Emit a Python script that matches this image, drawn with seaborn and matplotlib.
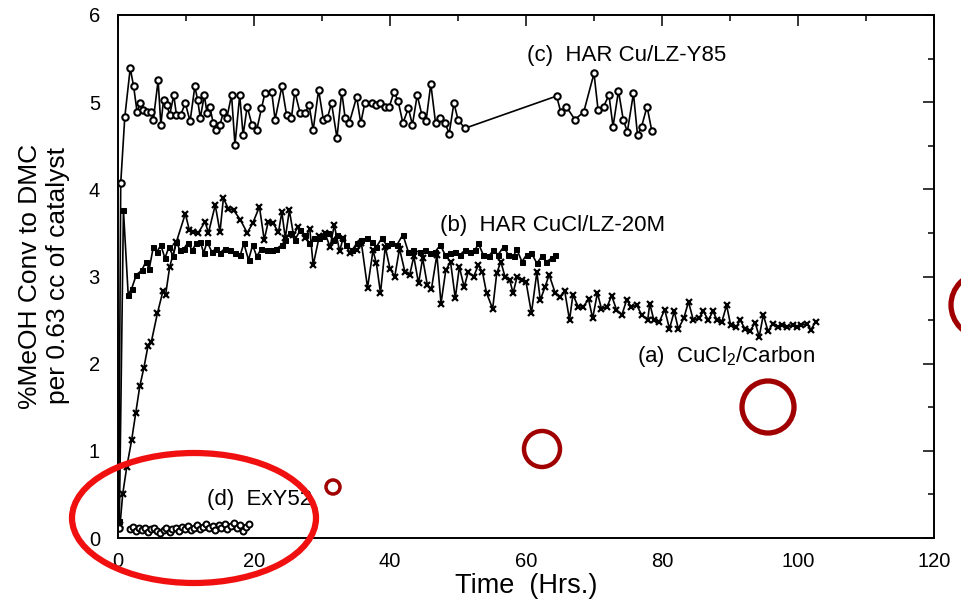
import matplotlib
matplotlib.use("Agg")
import matplotlib.pyplot as plt
from matplotlib.patches import Ellipse
import seaborn as sns
import pandas as pd

# ---- data: conversion vs. time on stream ----
c_time = [0.1, 0.4, 1.0, 1.8, 2.3, 2.8, 3.3, 3.7, 4.3, 4.9,
          5.2, 5.9, 6.3, 6.7, 7.2, 7.6, 8.2, 8.6, 9.2, 9.9,
          10.6, 11.3, 11.7, 12.1, 12.7, 13.1, 13.5, 14.0, 14.4, 15.0,
          15.5, 16.0, 16.7, 17.2, 17.9, 18.4, 19.0, 19.7, 20.4, 21.1,
          21.6, 22.6, 23.1, 24.1, 24.8, 25.5, 26.0, 26.8, 27.5, 28.1,
          28.7, 29.5, 30.2, 30.8, 31.4, 32.2, 32.9, 33.4, 34.0, 35.1,
          35.7, 36.3, 37.3, 38.0, 38.6, 39.3, 39.9, 40.6, 41.2, 41.9,
          42.7, 43.3, 44.0, 44.7, 45.3, 46.0, 46.7, 47.3, 48.1, 48.7,
          49.4, 50.0, 51.0, 64.5, 65.1, 65.9, 67.2, 68.5, 70.0, 70.6,
          71.4, 72.2, 72.8, 73.6, 74.3, 74.9, 75.8, 76.4, 77.0, 77.8,
          78.5]
c_conv = [0.12, 4.07, 4.83, 5.39, 5.18, 4.89, 4.99, 4.91, 4.89, 4.89,
          4.80, 5.25, 4.74, 5.03, 4.97, 4.85, 5.08, 4.85, 4.85, 4.99,
          4.78, 5.18, 5.03, 4.82, 5.08, 4.87, 4.95, 4.76, 4.68, 4.74,
          4.89, 4.82, 5.08, 4.51, 5.08, 4.62, 4.95, 4.74, 4.68, 4.93,
          5.10, 5.12, 4.80, 5.18, 4.85, 4.82, 5.12, 4.87, 4.87, 4.97,
          4.68, 5.14, 4.80, 4.82, 4.99, 4.59, 5.12, 4.82, 4.76, 5.06,
          4.76, 4.99, 4.99, 4.97, 4.99, 4.95, 4.95, 5.12, 5.01, 4.76,
          4.93, 4.74, 5.08, 4.85, 4.78, 5.21, 4.76, 4.82, 4.76, 4.64,
          4.99, 4.80, 4.70, 5.07, 4.89, 4.95, 4.80, 4.89, 5.33, 4.91,
          4.95, 5.08, 4.72, 5.13, 4.80, 4.66, 5.10, 4.62, 4.72, 4.95,
          4.67]

b_time = [0.2, 0.8, 1.5, 2.0, 2.7, 3.5, 4.1, 4.6, 5.2, 5.7,
          6.3, 6.9, 7.5, 8.1, 8.6, 9.1, 9.7, 10.3, 10.9, 11.5,
          12.1, 12.6, 13.1, 13.8, 14.4, 15.0, 15.7, 16.5, 17.2, 18.0,
          18.5, 19.2, 19.8, 20.4, 21.1, 21.9, 22.6, 23.3, 24.1, 24.6,
          25.3, 26.0, 26.8, 27.5, 28.1, 28.8, 29.5, 30.2, 30.9, 31.6,
          32.2, 32.9, 33.6, 34.4, 35.1, 35.8, 36.6, 37.3, 38.0, 38.8,
          39.5, 40.2, 41.0, 41.9, 42.7, 43.4, 44.4, 45.1, 45.9, 46.6,
          47.4, 48.1, 48.8, 49.6, 50.3, 51.0, 51.8, 52.5, 53.0, 53.7,
          54.5, 55.2, 55.9, 56.7, 57.4, 58.2, 58.6, 59.4, 60.1, 60.8,
          61.6, 62.3, 63.0, 63.8, 64.3]
b_conv = [0.20, 3.76, 2.79, 2.86, 3.02, 3.07, 3.17, 3.09, 3.34, 3.28,
          3.36, 3.21, 3.34, 3.23, 3.40, 3.30, 3.32, 3.39, 3.30, 3.38,
          3.40, 3.27, 3.40, 3.28, 3.32, 3.27, 3.32, 3.30, 3.27, 3.25,
          3.38, 3.19, 3.36, 3.23, 3.32, 3.30, 3.30, 3.32, 3.36, 3.42,
          3.50, 3.42, 3.53, 3.48, 3.38, 3.44, 3.44, 3.46, 3.50, 3.42,
          3.48, 3.44, 3.36, 3.30, 3.38, 3.42, 3.44, 3.40, 3.34, 3.44,
          3.36, 3.38, 3.36, 3.48, 3.28, 3.30, 3.28, 3.30, 3.27, 3.28,
          3.36, 3.25, 3.27, 3.28, 3.25, 3.30, 3.28, 3.30, 3.38, 3.25,
          3.23, 3.30, 3.25, 3.34, 3.25, 3.23, 3.32, 3.17, 3.25, 3.27,
          3.15, 3.23, 3.17, 3.21, 3.25]

a_time = [0.3, 0.7, 1.3, 2.0, 2.6, 3.2, 3.8, 4.4, 4.9, 5.8,
          6.6, 7.0, 7.6, 8.6, 9.9, 10.5, 11.1, 11.8, 12.8, 13.3,
          14.3, 15.0, 15.5, 16.2, 17.0, 18.0, 19.0, 19.8, 20.8, 21.5,
          22.1, 22.8, 23.6, 24.1, 24.6, 25.2, 25.8, 26.5, 27.5, 28.2,
          28.7, 29.6, 30.4, 31.2, 31.8, 32.6, 33.1, 34.1, 35.1, 35.8,
          36.7, 37.5, 38.0, 38.6, 39.3, 40.0, 40.7, 41.4, 42.2, 42.9,
          43.5, 44.2, 44.8, 45.5, 46.1, 46.9, 47.5, 48.2, 48.9, 49.6,
          50.2, 50.9, 51.5, 52.3, 53.0, 53.6, 54.2, 55.1, 55.7, 56.3,
          56.9, 57.6, 58.1, 58.7, 59.4, 60.0, 60.8, 61.6, 62.1, 62.8,
          63.4, 64.3, 65.0, 65.7, 66.4, 66.9, 67.7, 68.4, 69.2, 69.8,
          70.5, 71.1, 71.9, 72.6, 73.3, 74.1, 74.8, 75.5, 76.3, 77.0,
          77.9, 78.2, 78.8, 79.6, 80.4, 81.1, 81.8, 82.4, 83.2, 83.9,
          84.6, 85.4, 86.1, 86.8, 87.5, 88.1, 88.8, 89.5, 90.1, 90.9,
          91.5, 92.2, 92.9, 93.7, 94.3, 94.9, 95.6, 96.3, 97.1, 97.7,
          98.4, 99.2, 99.9, 100.5, 101.3, 101.9, 102.6]
a_conv = [0.15, 0.51, 0.82, 1.12, 1.43, 1.74, 1.95, 2.20, 2.25, 2.58,
          2.83, 2.79, 3.11, 3.40, 3.72, 3.53, 3.51, 3.50, 3.63, 3.50,
          3.82, 3.51, 3.90, 3.78, 3.76, 3.65, 3.50, 3.61, 3.80, 3.42,
          3.63, 3.61, 3.51, 3.74, 3.44, 3.76, 3.48, 3.57, 3.44, 3.55,
          3.13, 3.46, 3.50, 3.34, 3.59, 3.29, 3.44, 3.27, 3.30, 3.38,
          2.87, 3.30, 3.15, 2.81, 3.34, 3.09, 3.00, 3.32, 3.05, 3.02,
          3.23, 2.92, 3.21, 2.90, 2.86, 3.25, 2.69, 3.07, 3.17, 2.75,
          3.11, 2.88, 3.05, 3.00, 3.13, 3.05, 2.81, 2.63, 3.04, 3.17,
          3.00, 2.96, 2.81, 3.00, 2.96, 2.94, 2.58, 3.05, 2.73, 2.88,
          3.02, 2.81, 2.77, 2.83, 2.50, 2.79, 2.65, 2.65, 2.74, 2.52,
          2.81, 2.63, 2.65, 2.78, 2.62, 2.56, 2.73, 2.65, 2.67, 2.56,
          2.50, 2.69, 2.50, 2.48, 2.62, 2.40, 2.60, 2.40, 2.52, 2.71,
          2.50, 2.52, 2.60, 2.50, 2.60, 2.50, 2.48, 2.67, 2.44, 2.42,
          2.50, 2.40, 2.37, 2.47, 2.31, 2.56, 2.37, 2.46, 2.42, 2.44,
          2.42, 2.44, 2.42, 2.44, 2.46, 2.39, 2.48]

d_time = [1.8, 2.2, 2.6, 3.1, 3.5, 4.0, 4.4, 4.9, 5.3, 5.8,
          6.2, 6.7, 7.1, 7.6, 8.0, 8.5, 8.9, 9.4, 9.8, 10.3,
          10.7, 11.2, 11.6, 12.1, 12.5, 13.0, 13.4, 13.9, 14.3, 14.8,
          15.2, 15.7, 16.1, 16.6, 17.0, 17.5, 17.9, 18.4, 18.8, 19.3]
d_conv = [0.10, 0.13, 0.08, 0.12, 0.09, 0.11, 0.07, 0.10, 0.12, 0.08,
          0.06, 0.09, 0.11, 0.07, 0.10, 0.12, 0.08, 0.13, 0.10, 0.14,
          0.09, 0.12, 0.15, 0.10, 0.13, 0.16, 0.11, 0.14, 0.09, 0.15,
          0.12, 0.16, 0.10, 0.14, 0.17, 0.11, 0.15, 0.08, 0.13, 0.16]

series_labels = ["(a)  CuCl$_2$/Carbon", "(b)  HAR CuCl/LZ-20M",
                 "(c)  HAR Cu/LZ-Y85", "(d)  ExY52"]
x_ticks = [0, 20, 40, 60, 80, 100, 120]
y_ticks = [0, 1, 2, 3, 4, 5, 6]

# ---- figure ----
sns.set_theme(style="white")
plt.rcParams["font.family"] = ["Liberation Sans", "DejaVu Sans"]
plt.rcParams["mathtext.fontset"] = "custom"
plt.rcParams["mathtext.rm"] = "Liberation Sans"
for key in ("text.color", "axes.labelcolor", "xtick.color", "ytick.color",
            "axes.edgecolor"):
    plt.rcParams[key] = "black"

W, H = 961, 599
fig = plt.figure(figsize=(W / 100, H / 100), dpi=100)
ax = fig.add_axes([118 / W, 1 - 538 / H, (934 - 118) / W, (538 - 15) / H])

line_kw = dict(color="black", linewidth=1.2, estimator=None, sort=False,
               legend=False, ax=ax)

sns.lineplot(data=pd.DataFrame({"t": a_time, "v": a_conv}), x="t", y="v",
             marker="x", markersize=4.0, markeredgewidth=1.6,
             markeredgecolor="black", **line_kw)
sns.lineplot(data=pd.DataFrame({"t": b_time, "v": b_conv}), x="t", y="v",
             marker="s", markersize=3.6, markerfacecolor="black",
             markeredgecolor="black", **line_kw)
sns.lineplot(data=pd.DataFrame({"t": c_time, "v": c_conv}), x="t", y="v",
             marker="o", markersize=4.6, markerfacecolor="white",
             markeredgecolor="black", markeredgewidth=1.5, **line_kw)
sns.lineplot(data=pd.DataFrame({"t": d_time, "v": d_conv}), x="t", y="v",
             marker="o", markersize=4.3, markerfacecolor="white",
             markeredgecolor="black", markeredgewidth=1.4, **line_kw)

ax.set_xlim(0, 120)
ax.set_ylim(0, 6)
ax.set_xticks(x_ticks)
ax.set_xticklabels([str(t) for t in x_ticks], fontsize=14.5)
ax.set_xticks(range(10, 120, 20), minor=True)
ax.set_yticks(y_ticks)
ax.set_yticklabels([str(t) for t in y_ticks], fontsize=14.5)
ax.set_yticks([0.5 + i for i in range(6)], minor=True)
ax.tick_params(which="both", direction="in", top=True, right=True,
               color="black", width=1.1)
ax.tick_params(which="major", length=8)
ax.tick_params(which="minor", length=4.5)
ax.tick_params(axis="x", which="major", pad=10)
ax.tick_params(axis="y", which="major", pad=13)
ax.set_xlabel("")
ax.set_ylabel("")
for s in ax.spines.values():
    s.set_color("black")
    s.set_linewidth(1.4)

# series labels
label_pos = [(76.3, 2.08), (47.4, 3.59), (60.1, 5.54), (13.1, 0.44)]
for txt, (tx, ty) in zip(series_labels, label_pos):
    ax.text(tx, ty, txt, fontsize=16, ha="left", va="center", color="black")

fig.text(526 / W, 1 - 586 / H, "Time  (Hrs.)", fontsize=19.5,
         ha="center", va="center")
fig.text(44 / W, 1 - 276 / H,
         "%MeOH Conv to DMC\nper 0.63 cc of catalyst", fontsize=19,
         rotation=90, ha="center", va="center", linespacing=1.25)

# hand-drawn style highlight marks over the figure
ring_x = [333, 542, 768, 983]
ring_y = [487, 449, 407, 305]
ring_r = [7, 18, 26, 32]
ring_lw = [2.5, 3.2, 3.8, 3.8]
for cx, cy, r, lw in zip(ring_x, ring_y, ring_r, ring_lw):
    fig.add_artist(Ellipse((cx / W, 1 - cy / H), 2 * r / W, 2 * r / H,
                           transform=fig.transFigure, fill=False,
                           edgecolor="#a00000", linewidth=lw, clip_on=False))
fig.add_artist(Ellipse((194 / W, 1 - 518 / H), 244 / W, 130 / H,
                       transform=fig.transFigure, fill=False,
                       edgecolor="#f01010", linewidth=4.5, clip_on=False))

fig.savefig("out.png", dpi=100, facecolor="white")
